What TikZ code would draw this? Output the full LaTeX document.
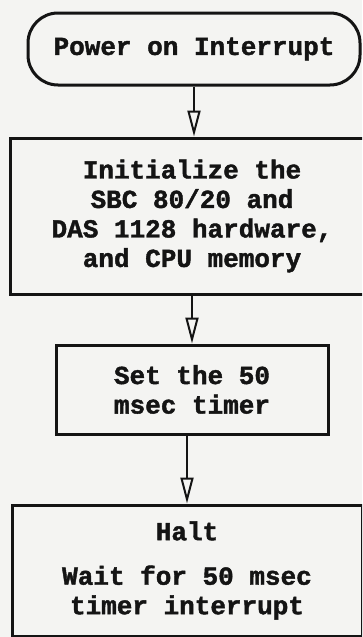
\documentclass[tikz,border=0pt]{standalone}
\usepackage{fontspec}
\setmonofont[BoldFeatures={FakeBold=1.6}]{Liberation Mono}
\usetikzlibrary{arrows.meta}
\definecolor{paper}{HTML}{F4F4F2}
\definecolor{ink}{HTML}{141414}

\begin{document}
\begin{tikzpicture}[x=1pt, y=1pt,
  box/.style={draw=ink, line width=3pt, inner sep=0pt, align=center, text=ink,
    font=\ttfamily\bfseries\fontsize{26}{29.5}\selectfont},
  termbox/.style={box, rounded corners=30pt},
  flow/.style={ink, line width=2.6pt, -{Triangle[open, length=26pt, width=13pt, line width=2pt]}},
]
\useasboundingbox (0,0) rectangle (362,-637);
\fill[paper] (0,0) rectangle (362,-637);
\clip (0,0) rectangle (362,-637);

% Start
\node[termbox, minimum width=332, minimum height=72] (term) at (194,-49) {Power on Interrupt};

% Steps
\node[box, minimum width=364, minimum height=156] (init) at (192,-216)
  {Initialize the\\SBC 80/20 and\\DAS 1128 hardware,\\and CPU memory};
\node[box, minimum width=272, minimum height=89] (timer) at (192,-389.5)
  {Set the 50\\msec timer};
\node[box, minimum width=350, minimum height=131] (halt) at (187,-570.5)
  {Halt\\[15pt]Wait for 50 msec\\timer interrupt};

% Flow
\draw[flow] (term) -- (term |- init.north);
\draw[flow] (init) -- (init |- timer.north);
\draw[flow] (halt |- timer.south) -- (halt);

\end{tikzpicture}
\end{document}
